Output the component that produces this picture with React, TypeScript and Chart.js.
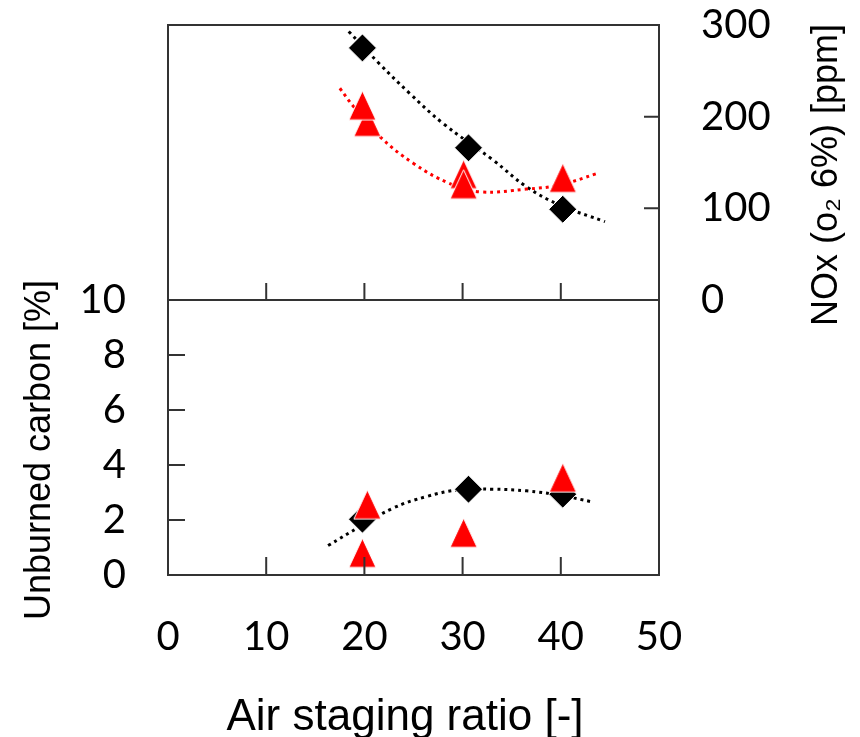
import React, { useEffect, useRef } from "react";
import { Chart, registerables } from "chart.js";

Chart.register(...registerables);

// ---------- data ----------
const xMin = 0;
const xMax = 50;
const xStep = 10;

const noxMin = 0;
const noxMax = 300;
const noxStep = 100;

const carbonMin = 0;
const carbonMax = 10;
const carbonStep = 2;

// Top panel: NOx [ppm]
const noxDiamondX = [19.8, 30.6, 40.2];
const noxDiamondY = [275, 166, 99];
const noxTriangleX = [20.3, 19.8, 30.1, 30.1, 40.2];
const noxTriangleY = [189, 207, 132, 121, 128];
const noxBlackFitX = [18.4, 21.5, 24.6, 28.0, 33.1, 36.5, 39.9, 44.5];
const noxBlackFitY = [293, 258, 225.5, 192.7, 152.7, 123.6, 103.6, 85.4];
const noxRedFitX = [17.5, 18.9, 21.6, 25.0, 28.7, 31.8, 36.5, 39.9, 43.7];
const noxRedFitY = [231, 211, 178, 149, 127, 118, 121, 125.5, 138];

// Bottom panel: Unburned carbon [%]
const carbonDiamondX = [19.8, 30.6, 40.2];
const carbonDiamondY = [2.03, 3.12, 2.94];
const carbonTriangleX = [20.3, 19.8, 30.1, 40.2];
const carbonTriangleY = [2.39, 0.63, 1.36, 3.37];
const carbonFitX = [16.3, 19.55, 22.9, 26.3, 29.7, 33.1, 36.5, 39.9, 43.3];
const carbonFitY = [1.07, 1.76, 2.43, 2.85, 3.1, 3.12, 3.06, 2.9, 2.65];

const xTitle = "Air staging ratio [-]";
const carbonTitle = "Unburned carbon [%]";
const noxTitle = "NOx (o\u2082 6%) [ppm]";

// ---------- helpers ----------
const pts = (xs: number[], ys: number[]) => xs.map((x, i) => ({ x, y: ys[i] }));

function makeTriangle(w: number, h: number, color: string) {
  const c = document.createElement("canvas");
  const H = Math.ceil((h * 4) / 3) + 2;
  c.width = Math.ceil(w) + 2;
  c.height = H;
  const g = c.getContext("2d")!;
  const cx = c.width / 2;
  const apex = H / 2 - (2 * h) / 3;
  g.beginPath();
  g.moveTo(cx, apex);
  g.lineTo(cx + w / 2, apex + h);
  g.lineTo(cx - w / 2, apex + h);
  g.closePath();
  g.fillStyle = color;
  g.fill();
  g.strokeStyle = "#ffffff";
  g.lineWidth = 1;
  g.stroke();
  return c;
}

const LINE = "#333333";
const TICK_FONT = { family: "Lato, 'Open Sans', sans-serif", size: 40 };
const TITLE_FONT = "'Liberation Sans', Arial, sans-serif";

const framePlugin = {
  id: "frame",
  afterDraw(chart: any, _args: any, opts: any) {
    const { ctx, chartArea: a } = chart;
    ctx.save();
    ctx.strokeStyle = LINE;
    ctx.lineWidth = 2;
    ctx.beginPath();
    for (const t of opts.ticks || []) {
      const sc = chart.scales[t.id];
      for (const tk of sc.ticks) {
        if (tk.value <= sc.min || tk.value >= sc.max) continue;
        const p = sc.getPixelForValue(tk.value);
        if (t.side === "bottom") {
          ctx.moveTo(p, a.bottom);
          ctx.lineTo(p, a.bottom - t.len);
        } else if (t.side === "left") {
          ctx.moveTo(a.left, p);
          ctx.lineTo(a.left + t.len, p);
        } else if (t.side === "right") {
          ctx.moveTo(a.right, p);
          ctx.lineTo(a.right - t.len, p);
        }
      }
    }
    ctx.stroke();
    ctx.strokeRect(a.left, a.top, a.right - a.left, a.bottom - a.top);
    ctx.fillStyle = "#000";
    for (const t of opts.titles || []) {
      ctx.save();
      ctx.translate(t.x, t.y);
      ctx.rotate(t.rot || 0);
      ctx.font = `${t.size}px ${TITLE_FONT}`;
      ctx.textAlign = "center";
      ctx.textBaseline = "alphabetic";
      ctx.fillText(t.text, 0, 0);
      ctx.restore();
    }
    ctx.restore();
  },
};

const TOP_H = 330;
const BOT_TOP = 270;
const BOT_H = 467;

const noPad = (s: any) => {
  s.paddingTop = 0;
  s.paddingBottom = 0;
  s.paddingLeft = 0;
  s.paddingRight = 0;
};

export default function App() {
  const topRef = useRef<HTMLCanvasElement>(null);
  const botRef = useRef<HTMLCanvasElement>(null);

  useEffect(() => {
    const tri = makeTriangle(27, 29, "#ff0000");

    const diamond = {
      pointStyle: "rectRot",
      pointRadius: 14,
      backgroundColor: "#000000",
      borderColor: "#ffffff",
      borderWidth: 1,
      showLine: false,
    };
    const triangle = { pointStyle: tri, pointRadius: 14, showLine: false };
    const fit = (color: string) => ({
      showLine: true,
      borderColor: color,
      borderWidth: 3,
      borderDash: [3, 4],
      pointRadius: 0,
      tension: 0.4,
      fill: false,
    });

    const common = {
      animation: false,
      responsive: false,
      events: [],
    };

    const top = new Chart(topRef.current!, {
      type: "scatter",
      data: {
        datasets: [
          { data: pts(noxTriangleX, noxTriangleY), ...triangle },
          { data: pts(noxDiamondX, noxDiamondY), ...diamond },
          { data: pts(noxRedFitX, noxRedFitY), ...fit("#ff0000") },
          { data: pts(noxBlackFitX, noxBlackFitY), ...fit("#000000") },
        ],
      } as any,
      options: {
        ...common,
        layout: { padding: { left: 168, top: 25, right: 0, bottom: 0 } },
        plugins: {
          legend: { display: false },
          tooltip: { enabled: false },
          frame: {
            ticks: [
              { id: "x", side: "bottom", len: 17 },
              { id: "y", side: "right", len: 15 },
            ],
            titles: [{ text: noxTitle, x: 837, y: 175, rot: -Math.PI / 2, size: 36 }],
          },
        },
        scales: {
          x: {
            type: "linear",
            min: xMin,
            max: xMax,
            ticks: { display: false, stepSize: xStep, autoSkip: false },
            grid: { display: false, drawTicks: false },
            border: { display: false },
            afterFit(s: any) {
              s.height = TOP_H - 300;
              noPad(s);
            },
          },
          y: {
            type: "linear",
            position: "right",
            min: noxMin,
            max: noxMax,
            ticks: { stepSize: noxStep, font: TICK_FONT, color: "#000", padding: 42, autoSkip: false },
            grid: { display: false, drawTicks: false },
            border: { display: false },
            afterFit(s: any) {
              s.width = 860 - 659;
              noPad(s);
            },
          },
        },
      } as any,
      plugins: [framePlugin as any],
    });

    const bot = new Chart(botRef.current!, {
      type: "scatter",
      data: {
        datasets: [
          { data: pts(carbonTriangleX, carbonTriangleY), ...triangle },
          { data: pts(carbonDiamondX, carbonDiamondY), ...diamond },
          { data: pts(carbonFitX, carbonFitY), ...fit("#000000") },
        ],
      } as any,
      options: {
        ...common,
        layout: { padding: { left: 0, top: 300 - BOT_TOP, right: 860 - 659, bottom: 0 } },
        plugins: {
          legend: { display: false },
          tooltip: { enabled: false },
          frame: {
            ticks: [
              { id: "x", side: "bottom", len: 18 },
              { id: "y", side: "left", len: 17 },
            ],
            titles: [
              { text: xTitle, x: 405, y: 730 - BOT_TOP, rot: 0, size: 44 },
              { text: carbonTitle, x: 50, y: 450 - BOT_TOP, rot: -Math.PI / 2, size: 36 },
            ],
          },
        },
        scales: {
          x: {
            type: "linear",
            min: xMin,
            max: xMax,
            ticks: { stepSize: xStep, font: TICK_FONT, color: "#000", padding: 38, maxRotation: 0, autoSkip: false },
            grid: { display: false, drawTicks: false },
            border: { display: false },
            afterFit(s: any) {
              s.height = BOT_TOP + BOT_H - 575;
              noPad(s);
            },
          },
          y: {
            type: "linear",
            position: "left",
            min: carbonMin,
            max: carbonMax,
            ticks: { stepSize: carbonStep, font: TICK_FONT, color: "#000", padding: 42, autoSkip: false },
            grid: { display: false, drawTicks: false },
            border: { display: false },
            afterFit(s: any) {
              s.width = 168;
              noPad(s);
            },
          },
        },
      } as any,
      plugins: [framePlugin as any],
    });

    return () => {
      top.destroy();
      bot.destroy();
    };
  }, []);

  return (
    <div style={{ position: "absolute", left: 0, top: 0, width: 860, height: 737, background: "#fff" }}>
      <canvas
        ref={topRef}
        width={860}
        height={TOP_H}
        style={{ position: "absolute", left: 0, top: 0, width: 860, height: TOP_H }}
      />
      <canvas
        ref={botRef}
        width={860}
        height={BOT_H}
        style={{ position: "absolute", left: 0, top: BOT_TOP, width: 860, height: BOT_H }}
      />
    </div>
  );
}
